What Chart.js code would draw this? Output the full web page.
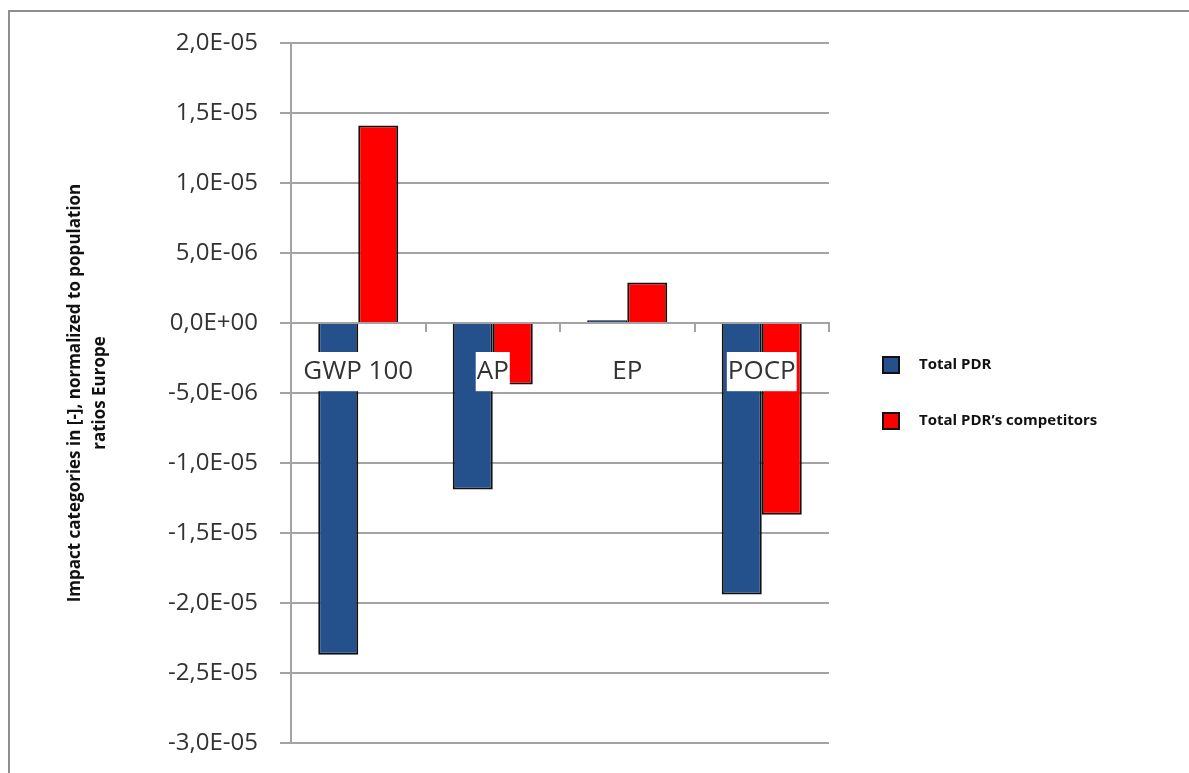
<!DOCTYPE html>
<html>
<head>
<meta charset="utf-8">
<script src="https://cdn.jsdelivr.net/npm/chart.js@4.4.0/dist/chart.umd.min.js"></script>
<style>
  html, body { margin: 0; padding: 0; background: #fff; }
  canvas { display: block; }
</style>
</head>
<body>
<canvas id="chart" width="1189" height="773"></canvas>
<script>
// Impact categories and the two series (normalized, population ratios Europe)
const categories = ['GWP 100', 'AP', 'EP', 'POCP'];
const seriesNames = ['Total PDR', 'Total PDR’s competitors'];
const totalPDR = [-2.37e-5, -1.19e-5, 2e-7, -1.94e-5];
const totalCompetitors = [1.41e-5, -4.4e-6, 2.9e-6, -1.37e-5];

// Value axis: range, step and the printed tick labels (bottom to top)
const yMin = -3e-5;
const yMax = 2e-5;
const yStep = 5e-6;
const yTickLabels = ['-3,0E-05', '-2,5E-05', '-2,0E-05', '-1,5E-05', '-1,0E-05',
                     '-5,0E-06', '0,0E+00', '5,0E-06', '1,0E-05', '1,5E-05', '2,0E-05'];
const yTitle = ['Impact categories in [-], normalized to population', 'ratios Europe'];

const seriesColors = ['#24508c', '#ff0000'];
const gridColor = '#a3a3a3';
const textColor = '#333333';

// Thin frame around the whole figure
const framePlugin = {
  id: 'frame',
  beforeDraw(chart) {
    const ctx = chart.ctx;
    ctx.save();
    ctx.fillStyle = '#ffffff';
    ctx.fillRect(0, 0, chart.width, chart.height);
    ctx.strokeStyle = '#8f8f8f';
    ctx.lineWidth = 2;
    ctx.strokeRect(9, 11, chart.width + 20, chart.height + 20);
    ctx.restore();
  }
};

// Legend drawn to the right of the plot, one entry per dataset
const sideLegendPlugin = {
  id: 'sideLegend',
  afterDraw(chart) {
    const ctx = chart.ctx;
    const area = chart.chartArea;
    const boxX = area.right + 53;
    const firstY = 365;
    const gapY = 56;
    ctx.save();
    ctx.font = 'bold 15px "Open Sans", sans-serif';
    ctx.textBaseline = 'middle';
    ctx.textAlign = 'left';
    chart.data.datasets.forEach((ds, i) => {
      const cy = firstY + i * gapY;
      ctx.fillStyle = ds.backgroundColor;
      ctx.fillRect(boxX, cy - 9, 18, 18);
      ctx.strokeStyle = '#111';
      ctx.lineWidth = 2;
      ctx.strokeRect(boxX + 1, cy - 8, 16, 16);
      ctx.fillStyle = '#111';
      ctx.fillText(ds.label, boxX + 37, cy);
    });
    ctx.restore();
  }
};

new Chart(document.getElementById('chart'), {
  type: 'bar',
  data: {
    labels: categories,
    datasets: [
      { label: seriesNames[0], data: totalPDR, backgroundColor: seriesColors[0] },
      { label: seriesNames[1], data: totalCompetitors, backgroundColor: seriesColors[1] }
    ]
  },
  options: {
    responsive: false,
    animation: false,
    events: [],
    layout: { padding: { top: 43, right: 360, bottom: 30, left: 0 } },
    datasets: {
      bar: {
        categoryPercentage: 0.595,
        barPercentage: 1.0,
        borderColor: '#111111',
        borderWidth: 2
      }
    },
    plugins: {
      legend: { display: false },
      tooltip: { enabled: false }
    },
    scales: {
      x: {
        position: { y: 0 },
        afterFit(scale) { scale.height = 0; },
        grid: {
          display: true,
          offset: true,
          drawOnChartArea: false,
          drawTicks: true,
          tickLength: 8,
          color: gridColor,
          lineWidth: 2
        },
        border: { display: true, color: gridColor, width: 2, z: 1 },
        ticks: {
          z: 1,
          color: textColor,
          font: { family: '"Open Sans", sans-serif', size: 26 },
          padding: 25,
          maxRotation: 0,
          autoSkip: false,
          showLabelBackdrop: true,
          backdropColor: '#ffffff',
          backdropPadding: { top: 4, bottom: 4, left: 1, right: 1 }
        }
      },
      y: {
        min: yMin,
        max: yMax,
        afterFit(scale) {
          scale.width = 291;
          scale.paddingTop = 0;
          scale.paddingBottom = 0;
        },
        grid: {
          color: gridColor,
          lineWidth: 2,
          tickLength: 11,
          drawTicks: true
        },
        border: { display: true, color: gridColor, width: 2 },
        ticks: {
          stepSize: yStep,
          padding: 22,
          color: textColor,
          font: { family: '"Open Sans", sans-serif', size: 24 },
          callback: (v) => yTickLabels[Math.round((v - yMin) / yStep)]
        },
        title: {
          display: true,
          text: yTitle,
          color: '#111111',
          font: { family: '"Open Sans", sans-serif', size: 17, weight: 'bold', lineHeight: '25px' },
          padding: { top: 63, bottom: 0 }
        }
      }
    }
  },
  plugins: [framePlugin, sideLegendPlugin]
});
</script>
</body>
</html>
